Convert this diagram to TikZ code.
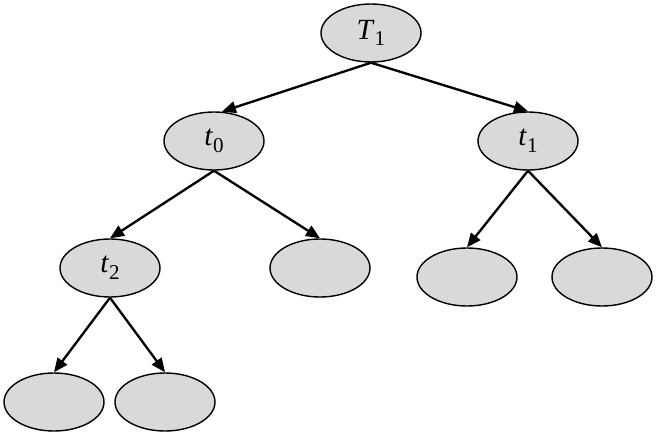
\documentclass[tikz,border=0pt]{standalone}
\usepackage{fontspec}
\setmainfont{Liberation Serif}
\usetikzlibrary{shapes.geometric, arrows.meta, positioning}
\newcommand{\sublbl}[2]{\textit{#1}\raisebox{-0.5ex}{\fontsize{18}{18}\selectfont #2}}

\begin{document}
\begin{tikzpicture}[x=0.03cm, y=-0.03cm,
    treenode/.style={ellipse, draw, line width=1.2pt, fill=gray!30,
      minimum width=3cm, minimum height=1.74cm, inner sep=0pt,
      font=\fontsize{25}{28}\selectfont},
    edge/.style={-{Triangle[length=12pt, width=10pt]}, line width=2pt}]
  \useasboundingbox (0,0) rectangle (660,443);
  \node[treenode] (T1) at (371,33) {\sublbl{T}{1}};
  \node[treenode] (t0) at (214,141) {\sublbl{t}{0}};
  \node[treenode] (t1) at (528,141) {\sublbl{t}{1}};
  \node[treenode] (t2) at (110,268) {\sublbl{t}{2}};
  \node[treenode] (t0r) at (320,268) {};
  \node[treenode] (t1l) at (467,277) {};
  \node[treenode] (t1r) at (602,277) {};
  \node[treenode] (t2l) at (54,402) {};
  \node[treenode] (t2r) at (165,402) {};
  \draw[edge] (T1.south) -- (t0.75);
  \draw[edge] (T1.south) -- (t1.north);
  \draw[edge] (t0.south) -- (t2.north);
  \draw[edge] (t0.south) -- (t0r.north);
  \draw[edge] (t1.south) -- (t1l.north);
  \draw[edge] (t1.south) -- (t1r.north);
  \draw[edge] (t2.south) -- (t2l.north);
  \draw[edge] (t2.south) -- (t2r.north);
\end{tikzpicture}
\end{document}
